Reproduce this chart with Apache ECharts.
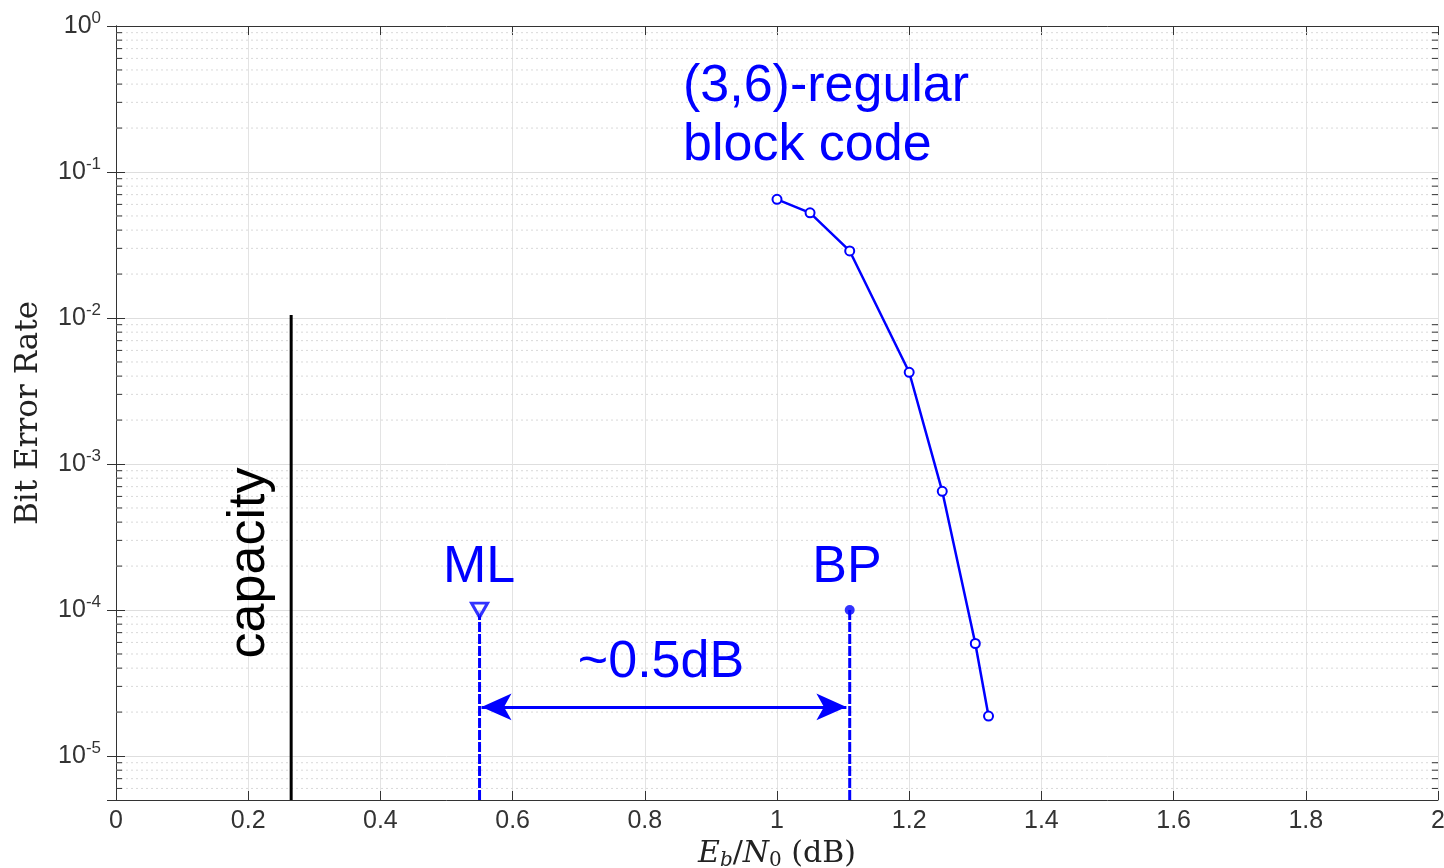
<!DOCTYPE html>
<html>
<head>
<meta charset="utf-8">
<title>BER (3,6)-regular block code</title>
<script src="https://cdn.jsdelivr.net/npm/echarts@6/dist/echarts.min.js"></script>
<style>
  html, body { margin: 0; padding: 0; background: #fff; }
  #chart { width: 1444px; height: 868px; }
</style>
</head>
<body>
<div id="chart"></div>
<script>
// Eb/N0 (dB) and BER of the (3,6)-regular block code
const ebn0 = [1.0, 1.05, 1.11, 1.2, 1.25, 1.3, 1.32];
const ber = [6.5e-2, 5.25e-2, 2.88e-2, 4.25e-3, 6.5e-4, 5.9e-5, 1.88e-5];

// thresholds
const mlX = 0.55;
const bpX = 1.11;
const thresholdBer = 1e-4;
const capacityX = 0.265;
const capacityTop = 1.05e-2;
const arrowBer = 2.17e-5;
const arrowFrom = 0.553;
const arrowTo = 1.105;

const xTicks = [0, 0.2, 0.4, 0.6, 0.8, 1, 1.2, 1.4, 1.6, 1.8, 2];
const yMin = 5e-6;
const yMax = 1;
const decades = [-6, -5, -4, -3, -2, -1];
const minorSteps = [2, 3, 4, 5, 6, 7, 8, 9];

const BLUE = '#0000ff';

let minorVals = [];
decades.forEach(d => {
  minorSteps.forEach(m => {
    const v = m * Math.pow(10, d);
    if (v > yMin && v < yMax) minorVals.push(v);
  });
});

function powLabel(v) {
  const e = Math.log10(v);
  const r = Math.round(e);
  if (Math.abs(e - r) > 1e-6) return '';
  return '{b|10}{s|' + r + '}';
}

const chart = echarts.init(document.getElementById('chart'));

const option = {
  animation: false,
  backgroundColor: '#fff',
  grid: { left: 116, right: 6, top: 26, bottom: 68, outerBoundsMode: 'none', containLabel: false },
  xAxis: [
    {
      type: 'value',
      min: xTicks[0],
      max: xTicks[xTicks.length - 1],
      interval: 0.2,
      name: '{i|E}{si|b}{n|/}{i|N}{sub|0}{n| (dB)}',
      nameLocation: 'middle',
      nameGap: 36,
      nameTextStyle: {
        rich: {
          i: { fontFamily: 'DejaVu Serif', fontStyle: 'italic', fontSize: 30, color: '#222' },
          n: { fontFamily: 'DejaVu Serif', fontSize: 30, color: '#222' },
          si: { fontFamily: 'DejaVu Serif', fontStyle: 'italic', fontSize: 20, color: '#222', padding: [13, 0, 0, 0] },
          sub: { fontFamily: 'DejaVu Serif', fontSize: 20, color: '#222', padding: [13, 0, 0, 0] }
        }
      },
      axisLine: { lineStyle: { color: '#333', width: 1 } },
      axisTick: { inside: true, length: 9, lineStyle: { color: '#333' } },
      axisLabel: { fontFamily: 'Liberation Sans', fontSize: 25, color: '#333', margin: 9 },
      splitLine: { show: true, lineStyle: { color: '#e3e3e3', width: 1 } }
    },
    {
      type: 'value',
      position: 'top',
      min: xTicks[0],
      max: xTicks[xTicks.length - 1],
      interval: 0.2,
      axisLine: { lineStyle: { color: '#333', width: 1 } },
      axisTick: { inside: true, length: 9, lineStyle: { color: '#333' } },
      axisLabel: { show: false },
      splitLine: { show: false }
    }
  ],
  yAxis: [
    {
      type: 'log',
      logBase: 10,
      min: yMin,
      max: yMax,
      name: 'Bit Error Rate',
      nameLocation: 'middle',
      nameGap: 72,
      nameRotate: 90,
      nameTextStyle: { fontFamily: 'DejaVu Serif', fontSize: 31, color: '#222' },
      axisLine: { lineStyle: { color: '#333', width: 1 } },
      axisTick: { inside: true, length: 9, lineStyle: { color: '#333' } },
      axisLabel: {
        formatter: powLabel,
        margin: 15,
        rich: {
          b: { fontFamily: 'Liberation Sans', fontSize: 25, color: '#333' },
          s: { fontFamily: 'Liberation Sans', fontSize: 17, color: '#333', padding: [0, 0, 15, 0] }
        }
      },
      splitLine: { show: true, lineStyle: { color: '#dedede', width: 1 } }
    },
    {
      type: 'log',
      logBase: 10,
      position: 'right',
      min: yMin,
      max: yMax,
      axisLine: { lineStyle: { color: '#333', width: 1 } },
      axisTick: { inside: true, length: 9, lineStyle: { color: '#333' } },
      axisLabel: { show: false },
      splitLine: { show: false }
    }
  ],
  series: [
    {
      // minor log grid + minor ticks
      type: 'custom',
      silent: true,
      z: 1,
      data: minorVals.map(v => [0, v]),
      renderItem: function (params, api) {
        const y = api.coord([0, api.value(1)])[1];
        const cs = params.coordSys;
        return {
          type: 'group',
          children: [
            {
              type: 'line',
              shape: { x1: cs.x, y1: y, x2: cs.x + cs.width, y2: y },
              style: { stroke: '#d9d9d9', lineWidth: 1, lineDash: [2, 3] }
            },
            {
              type: 'line',
              shape: { x1: cs.x, y1: y, x2: cs.x + 6, y2: y },
              style: { stroke: '#333', lineWidth: 1 }
            },
            {
              type: 'line',
              shape: { x1: cs.x + cs.width - 6, y1: y, x2: cs.x + cs.width, y2: y },
              style: { stroke: '#333', lineWidth: 1 }
            }
          ]
        };
      }
    },
    {
      name: 'capacity',
      type: 'line',
      symbol: 'none',
      z: 3,
      data: [[capacityX, capacityTop], [capacityX, yMin]],
      lineStyle: { color: '#000', width: 3 }
    },
    {
      name: 'ML',
      type: 'line',
      symbol: 'none',
      z: 3,
      data: [[mlX, thresholdBer], [mlX, yMin]],
      lineStyle: { color: BLUE, width: 3, type: [10, 2] },
      markLine: {
        silent: true,
        symbol: ['arrow', 'arrow'],
        symbolSize: [20, 30],
        label: { show: false },
        lineStyle: { color: BLUE, width: 3, type: 'solid' },
        data: [[{ coord: [arrowFrom, arrowBer] }, { coord: [arrowTo, arrowBer] }]]
      }
    },
    {
      name: 'BP',
      type: 'line',
      symbol: 'none',
      z: 3,
      data: [[bpX, thresholdBer], [bpX, yMin]],
      lineStyle: { color: BLUE, width: 3, type: [10, 2] }
    },
    {
      name: 'ML marker',
      type: 'scatter',
      z: 4,
      symbol: 'triangle',
      symbolRotate: 180,
      symbolSize: [16, 14],
      itemStyle: { color: '#fff', borderColor: BLUE, borderWidth: 3 },
      data: [[mlX, thresholdBer]]
    },
    {
      name: 'BP marker',
      type: 'scatter',
      z: 4,
      symbol: 'circle',
      symbolSize: 10,
      itemStyle: { color: BLUE },
      data: [[bpX, thresholdBer]]
    },
    {
      name: '(3,6)-regular block code',
      type: 'line',
      z: 5,
      data: ebn0.map((x, i) => [x, ber[i]]),
      lineStyle: { color: BLUE, width: 2.5 },
      symbol: 'emptyCircle',
      symbolSize: 9,
      itemStyle: { color: BLUE, borderColor: BLUE, borderWidth: 2 }
    }
  ],
  graphic: [
    { type: 'text', z: 100, x: 683, y: 87, style: { text: '(3,6)-regular', font: '52px "Liberation Sans"', fill: BLUE, align: 'left', verticalAlign: 'middle' } },
    { type: 'text', z: 100, x: 683, y: 146, style: { text: 'block code', font: '52px "Liberation Sans"', fill: BLUE, align: 'left', verticalAlign: 'middle' } },
    { type: 'text', z: 100, x: 479, y: 568, style: { text: 'ML', font: '52px "Liberation Sans"', fill: BLUE, align: 'center', verticalAlign: 'middle' } },
    { type: 'text', z: 100, x: 847, y: 568, style: { text: 'BP', font: '52px "Liberation Sans"', fill: BLUE, align: 'center', verticalAlign: 'middle' } },
    { type: 'text', z: 100, x: 661, y: 663, style: { text: '~0.5dB', font: '52px "Liberation Sans"', fill: BLUE, align: 'center', verticalAlign: 'middle' } },
    { type: 'text', z: 100, x: 250, y: 563, rotation: Math.PI / 2, style: { text: 'capacity', font: '52px "Liberation Sans"', fill: '#000', align: 'center', verticalAlign: 'middle' } }
  ]
};

chart.setOption(option);
</script>
</body>
</html>
